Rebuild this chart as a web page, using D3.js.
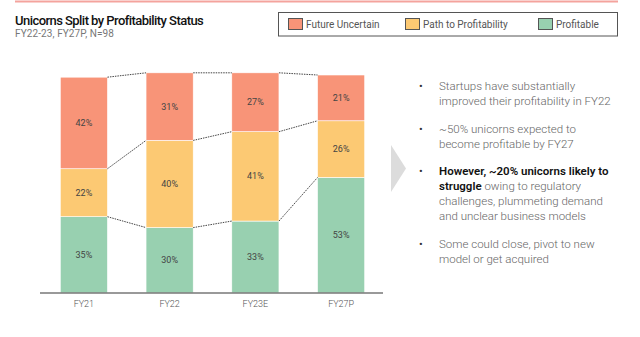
<!DOCTYPE html>
<html><head><meta charset="utf-8">
<script src="https://cdn.jsdelivr.net/npm/d3@7"></script>
<style>
html,body{margin:0;padding:0;background:#fff;}
svg{display:block;font-family:Roboto,"Noto Sans",sans-serif;}
</style></head>
<body><svg id="c" width="640" height="337"></svg>
<script>
const categories = ["FY21","FY22","FY23E","FY27P"];
const seriesNames = ["Profitable","Path to Profitability","Future Uncertain"];
const profitable = [35,30,33,53];
const pathToProfit = [22,40,41,26];
const futureUncertain = [42,31,27,21];
const legendOrder = ["Future Uncertain","Path to Profitability","Profitable"];
const colors = {"Future Uncertain":"#f89478","Path to Profitability":"#fcc973","Profitable":"#98d0b0"};
const bullets = [
  [[{t:"Startups have substantially",b:false}],[{t:"improved their profitability in FY22",b:false}]],
  [[{t:"~50% unicorns expected to",b:false}],[{t:"become profitable by FY27",b:false}]],
  [[{t:"However, ~20% unicorns likely to",b:true}],[{t:"struggle",b:true},{t:" owing to regulatory",b:false}],[{t:"challenges, plummeting demand",b:false}],[{t:"and unclear business models",b:false}]],
  [[{t:"Some could close, pivot to new",b:false}],[{t:"model or get acquired",b:false}]]
];

const svg = d3.select("#c");
const data = categories.map((c,i)=>({cat:c,"Profitable":profitable[i],"Path to Profitability":pathToProfit[i],"Future Uncertain":futureUncertain[i]}));
const stack = d3.stack().keys(seriesNames)(data);

const x = d3.scaleBand().domain(categories).range([41,384]).paddingInner(0.45).paddingOuter(0.225);
const y = d3.scaleLinear().domain([0,100]).range([293,75]);

// top pink rule
svg.append("line").attr("x1",15).attr("x2",618).attr("y1",1.5).attr("y2",1.5).attr("stroke","#f4a39d").attr("stroke-width",2);

// title
svg.append("text").attr("x",15).attr("y",25).attr("font-size",13).attr("font-weight",500).attr("fill","#111")
  .attr("letter-spacing","-0.55").text("Unicorns Split by Profitability Status");
svg.append("text").attr("x",15).attr("y",37).attr("font-size",10).attr("fill","#777").attr("letter-spacing","0.1").text("FY22-23, FY27P, N=98");

// legend
const lg = svg.append("g");
lg.append("rect").attr("x",278.5).attr("y",12.5).attr("width",339).attr("height",23.5).attr("fill","#fff").attr("stroke","#555").attr("stroke-width",1);
const lx = [288,405,538];
legendOrder.forEach((k,i)=>{
  lg.append("rect").attr("x",lx[i]+0.5).attr("y",18.5).attr("width",14).attr("height",11).attr("fill",colors[k]).attr("stroke","#555");
  lg.append("text").attr("x",lx[i]+18).attr("y",28).attr("font-size",10).attr("fill","#555").text(k);
});

// bars
const g = svg.append("g");
stack.forEach(s=>{
  g.selectAll(null).data(s).enter().append("rect")
    .attr("x",d=>x(d.data.cat)).attr("width",x.bandwidth())
    .attr("y",d=>y(d[1])).attr("height",d=>y(d[0])-y(d[1]))
    .attr("fill",colors[s.key]).attr("stroke","#fff").attr("stroke-width",0.6);
  g.selectAll(null).data(s).enter().append("text")
    .attr("x",d=>x(d.data.cat)+x.bandwidth()/2).attr("y",d=>(y(d[0])+y(d[1]))/2+3)
    .attr("text-anchor","middle").attr("font-size",9).attr("fill","#444")
    .text(d=>(d[1]-d[0])+"%");
});

// connectors
stack.forEach(s=>{
  for(let i=0;i<categories.length-1;i++){
    const a=s[i], b=s[i+1];
    g.append("line")
      .attr("x1",x(a.data.cat)+x.bandwidth()).attr("y1",y(a[1]))
      .attr("x2",x(b.data.cat)).attr("y2",y(b[1]))
      .attr("stroke","#444").attr("stroke-width",1).attr("stroke-dasharray","1.5,1");
  }
});

// axis baseline
const axis = svg.append("g").attr("transform","translate(0,293)").call(d3.axisBottom(x).tickSize(0).tickPadding(8));
axis.select(".domain").attr("stroke","#777").attr("stroke-width",1.5).attr("d","M40,0H383");
axis.selectAll("text").attr("font-size",9).attr("font-weight",300).attr("fill","#555").attr("font-family","Roboto,sans-serif");

// arrow
svg.append("path").attr("d","M391,145L406,168.5L391,192Z").attr("fill","#dcdcdc");

// bullets text
const lineStarts = [90,133,175,248];
const bx = 419, tx = 439, lh = 15;
bullets.forEach((bl,i)=>{
  svg.append("text").attr("x",bx).attr("y",lineStarts[i]).attr("font-size",11).attr("fill","#333").text("•");
  bl.forEach((line,j)=>{
    const t = svg.append("text").attr("x",tx).attr("y",lineStarts[i]+j*lh).attr("font-size",11.5);
    line.forEach(seg=>{
      t.append("tspan").attr("font-weight",seg.b?600:300).attr("fill",seg.b?"#111":"#666").text(seg.t);
    });
  });
});
</script></body></html>
